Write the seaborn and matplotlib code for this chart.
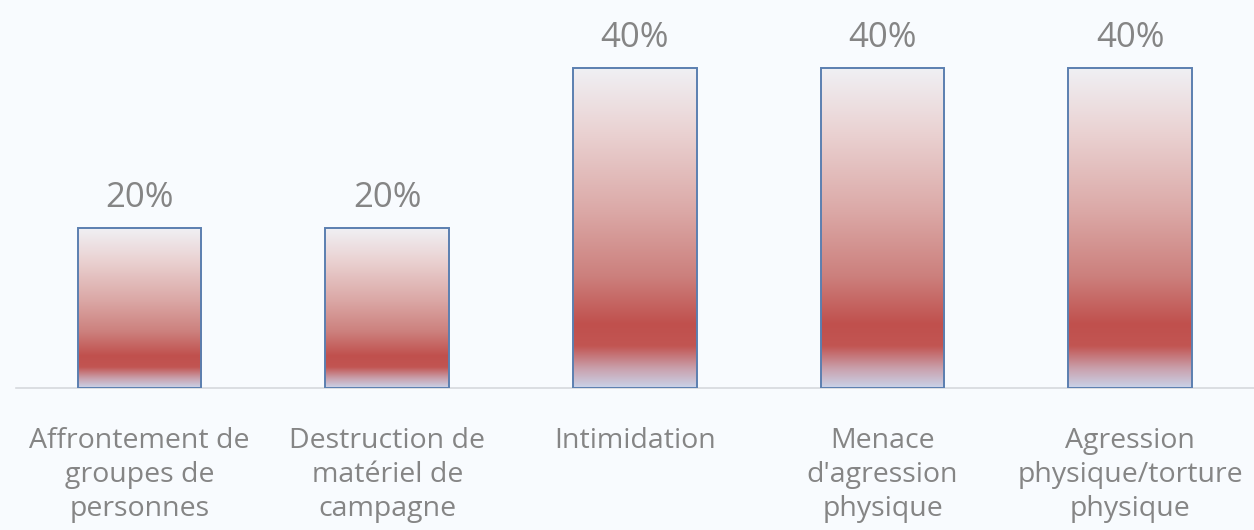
import numpy as np
import pandas as pd
import matplotlib
matplotlib.use("Agg")
import matplotlib.pyplot as plt
from matplotlib.colors import LinearSegmentedColormap
import seaborn as sns

sns.set_style("white")
plt.rcParams['font.family'] = ['Open Sans', 'DejaVu Sans']

# data
categories = ["Affrontement de\ngroupes de\npersonnes",
              "Destruction de\nmatériel de\ncampagne",
              "Intimidation",
              "Menace\nd'agression\nphysique",
              "Agression\nphysique/torture\nphysique"]
values = [20, 20, 40, 40, 40]
value_labels = ["20%", "20%", "40%", "40%", "40%"]

df = pd.DataFrame({"cat": categories, "val": values})

fig = plt.figure(figsize=(12.54, 5.30), dpi=100)
fig.patch.set_facecolor("#f8fbfe")
ax = fig.add_axes([15.7 / 1254, 142 / 530, (1254 - 15.7) / 1254, 388 / 530])
ax.set_facecolor("none")

sns.barplot(data=df, x="cat", y="val", ax=ax, width=0.5, color="white",
            edgecolor="#5b7fb0", linewidth=1.4, zorder=3)

# vertical gradient for each bar (top -> bottom)
grad = LinearSegmentedColormap.from_list("bar", [
    (0.00, "#f0f0f4"),
    (0.20, "#ead2d2"),
    (0.45, "#dba8a6"),
    (0.65, "#cc807d"),
    (0.80, "#c0504d"),
    (0.87, "#c25552"),
    (0.94, "#c9a0ac"),
    (1.00, "#cad2e8"),
])
g = np.linspace(0, 1, 256).reshape(-1, 1)
for p in ax.patches:
    x0, y0 = p.get_x(), p.get_y()
    w, h = p.get_width(), p.get_height()
    im = ax.imshow(g, cmap=grad, aspect="auto", extent=[x0, x0 + w, y0, y0 + h],
                   origin="upper", zorder=2.5, interpolation="bicubic")
    im.set_clip_path(p)
    p.set_facecolor("none")

for i, (v, lab) in enumerate(zip(values, value_labels)):
    ax.text(i, v + 3.8, lab, ha="center", va="center", fontsize=25, color="#858585")

ax.set_xlim(-0.5, 4.5)
ax.set_ylim(0, 48.5)
ax.set_xlabel("")
ax.set_ylabel("")
ax.set_yticks([])
sns.despine(ax=ax, left=True, top=True, right=True)
ax.spines["bottom"].set_color("#d6d9dd")
ax.spines["bottom"].set_linewidth(1.2)

ax.set_xticks(range(len(categories)))
ax.set_xticklabels(categories, fontsize=20.5, color="#858585", linespacing=1.3, va="top")
ax.tick_params(axis="x", which="major", length=0, pad=28)
ax.set_xticks(np.arange(-0.5, 5, 1), minor=True)
ax.tick_params(axis="x", which="minor", length=9, color="#d6d9dd", width=1.2)

fig.savefig("out.png", dpi=100, facecolor=fig.get_facecolor())
